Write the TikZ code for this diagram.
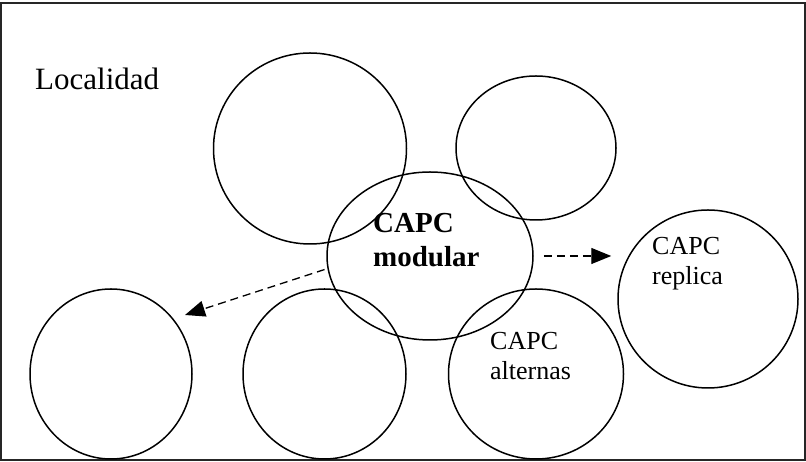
\documentclass[tikz,border=0pt]{standalone}
\usepackage{fontspec}
\setmainfont{Liberation Serif}
\usetikzlibrary{arrows.meta, shapes.geometric}
\tikzset{
  ring/.style={draw, ellipse, line width=1.5pt, inner sep=0pt},
  dasharrow/.style={->, line width=1.3pt, dash pattern=on 8pt off 5pt},
  capc/.style={anchor=north west, align=left, inner sep=0pt}
}
\begin{document}
\begin{tikzpicture}[>={Triangle[length=20pt, width=16pt]}, x=1pt, y=1pt]
\useasboundingbox (0,0) rectangle (806,462);
% Frame
\draw[line width=2pt, black!85] (1,2) rectangle (805,459);
\node[anchor=base west, inner sep=0pt, font=\fontsize{31}{36}\selectfont]
  (Localidad) at (35,372) {Localidad};

% === Top row ===
\node[ring, minimum width=193pt, minimum height=191pt] (TopLeft) at (310,313.5) {};
\node[ring, minimum width=160pt, minimum height=144pt] (TopRight) at (536,314) {};

% === Middle ===
\node[ring, minimum width=206pt, minimum height=168pt] (Modular) at (430,206) {};
\node[ring, minimum width=180pt, minimum height=178pt] (Replica) at (708,163) {};

% === Bottom row ===
\foreach \name/\x/\w in {BotLeft/111/162, BotMid/324.5/163, Alternas/536/175}{
  \node[ring, minimum width=\w pt, minimum height=170pt]
    (\name) at (\x,88) {};
}

% === Labels ===
\node[capc, font=\bfseries\fontsize{29}{34}\selectfont]
  (Modular-text) at (373,249) {CAPC\\modular};
\node[capc, font=\fontsize{26}{30}\selectfont]
  (Alternas-text) at (490,130) {CAPC\\alternas};
\node[capc, font=\fontsize{26}{30}\selectfont]
  (Replica-text) at (652,225) {CAPC\\replica};

% === Connections ===
\coordinate (BotLeft-tip) at (185,147);
\draw[dasharrow, shorten <=10pt, shorten >=6pt]
  (Modular.east) -- (Modular.east -| Replica.west);
\draw[dasharrow, shorten <=3pt] (Modular.187) -- (BotLeft-tip);

\end{tikzpicture}
\end{document}
